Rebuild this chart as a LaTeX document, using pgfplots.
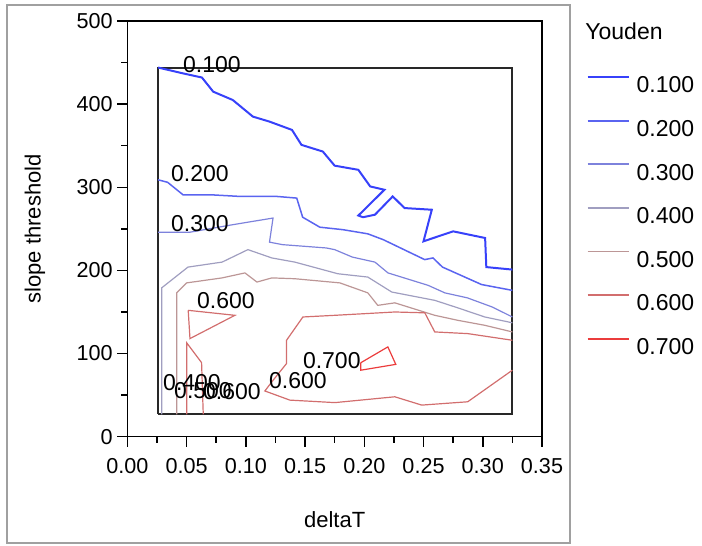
\documentclass[border=0pt]{standalone}
\usepackage{fontspec}
\setmainfont{Liberation Sans}
\usepackage{pgfplots}
\pgfplotsset{compat=1.18}
\definecolor{cA}{RGB}{55,65,250}
\definecolor{cB}{RGB}{90,100,240}
\definecolor{cC}{RGB}{125,130,220}
\definecolor{cD}{RGB}{160,158,192}
\definecolor{cE}{RGB}{188,150,150}
\definecolor{cF}{RGB}{210,110,110}
\definecolor{cG}{RGB}{235,60,60}
\definecolor{frame}{RGB}{160,160,160}
\begin{document}
\begin{tikzpicture}
\useasboundingbox (0,0) rectangle (351pt,273pt);
\draw[line width=0.8pt, frame] (3.5pt,1.5pt) rectangle (285pt,270.5pt);
\node[anchor=west, inner sep=0pt, font=\fontsize{11.5}{13}\selectfont] at (292.5pt,257.5pt) {Youden};
\begin{axis}[
  at={(63.65pt,54.65pt)}, anchor=south west,
  scale only axis, width=207.35pt, height=207.85pt,
  xmin=0, xmax=0.35, ymin=0, ymax=500,
  xtick={0,0.05,0.1,0.15,0.2,0.25,0.3,0.35},
  ytick={0,100,200,300,400,500},
  minor x tick num=1, minor y tick num=1,
  tick align=outside, xtick pos=bottom, ytick pos=left,
  major tick length=5pt, minor tick length=3pt,
  every tick/.style={black, line width=0.75pt},
  axis line style={black, line width=0.75pt},
  tick label style={font=\fontsize{10.8}{13}\selectfont},
  /pgf/number format/assume math mode=true,
  scaled x ticks=false,
  xticklabel style={yshift=-2.3pt, /pgf/number format/.cd, fixed, fixed zerofill, precision=2},
  yticklabel style={xshift=1.2pt},
  xlabel={deltaT}, ylabel={slope threshold},
  label style={font=\fontsize{11}{13}\selectfont},
  xlabel style={at={(axis description cs:0.5,-0.2004)}, anchor=center},
  ylabel style={at={(axis description cs:-0.2226,0.5)}, anchor=center},
  legend style={at={(axis description cs:1.1078,0.8684)}, anchor=north west,
    draw=none, fill=none, inner sep=0pt, outer sep=0pt,
    row sep=11.75pt, column sep=3.2pt,
    font=\fontsize{11.5}{13}\selectfont,
    cells={anchor=west}, nodes={inner sep=0pt}},
  legend image code/.code={\draw[#1, line width=0.9pt] (0pt,4.65pt) -- (20.8pt,4.65pt); \path (0pt,-4.65pt);},
  clip=false,
]
% inner frame
\addplot[forget plot, draw={rgb,255:red,40;green,40;blue,40}, line width=1pt] coordinates {
(0.026,27) (0.325,27) (0.325,444) (0.026,444) (0.026,27)};
% 0.100
\addplot[cA, line width=1pt] coordinates {
(0.026,444) (0.047,437) (0.063,432) (0.0725,415) (0.089,405) (0.106,385) (0.120,379)
(0.139,369) (0.147,351) (0.165,343) (0.175,326) (0.195,321) (0.205,301) (0.217,297)
(0.195,266) (0.199,264) (0.209,267) (0.224,289) (0.234,275) (0.257,273) (0.250,235)
(0.275,247) (0.302,239) (0.303,204) (0.325,201)};
\addlegendentry{0.100}
% 0.200
\addplot[cB, line width=0.75pt] coordinates {
(0.026,309) (0.034,306) (0.047,291) (0.070,291) (0.095,289) (0.126,289) (0.143,287)
(0.148,264) (0.1625,252) (0.182,249) (0.203,244) (0.216,237) (0.251,213) (0.258,215)
(0.266,204) (0.299,183) (0.325,176)};
\addlegendentry{0.200}
% 0.300
\addplot[cC, line width=0.6pt] coordinates {
(0.026,246) (0.053,246) (0.089,255) (0.123,263) (0.120,234) (0.131,231) (0.168,227)
(0.175,225) (0.190,216) (0.209,210) (0.220,197) (0.254,182) (0.268,173) (0.287,167)
(0.308,156) (0.325,144)};
\addlegendentry{0.300}
% 0.400
\addplot[cD, line width=0.6pt] coordinates {
(0.029,27) (0.029,179) (0.0512,204) (0.080,210) (0.1018,225) (0.122,215) (0.1414,210)
(0.1777,196) (0.203,192) (0.2232,174) (0.2595,164) (0.2789,155) (0.3017,144) (0.325,137)};
\addlegendentry{0.400}
% 0.500
\addplot[cE, line width=0.6pt] coordinates {
(0.0417,27) (0.0417,173) (0.0501,185) (0.080,191) (0.0993,197) (0.1094,186) (0.122,191)
(0.1414,190) (0.1794,185) (0.203,173) (0.2114,158) (0.2258,161) (0.2595,146) (0.2789,140)
(0.3017,134) (0.325,126)};
\addlegendentry{0.500}
% 0.600
\addplot[cF, line width=0.6pt] coordinates {
(0.0501,27) (0.0501,113) (0.0627,89) (0.0641,27)};
\addlegendentry{0.600}
\addplot[cF, line width=0.6pt, forget plot] coordinates {
(0.0514,152) (0.0908,146) (0.0529,118) (0.0514,152)};
\addplot[cF, line width=0.6pt, forget plot] coordinates {
(0.325,116) (0.2873,124) (0.2595,126) (0.2511,149) (0.2258,150) (0.1752,146) (0.1482,144)
(0.1344,116) (0.1344,88) (0.1231,68) (0.1161,55) (0.1372,44) (0.1752,41) (0.2258,48)
(0.2485,38) (0.2873,42) (0.325,80)};
% 0.700
\addplot[cG, line width=0.6pt] coordinates {
(0.1971,89) (0.2199,108) (0.2266,87) (0.1971,80) (0.1971,89)};
\addlegendentry{0.700}
% contour labels
\begin{scope}[every node/.style={inner sep=0pt, font=\fontsize{11.5}{13}\selectfont}]
\node at (axis cs:0.0714,447) {0.100};
\node at (axis cs:0.0613,317) {0.200};
\node at (axis cs:0.0613,256) {0.300};
\node at (axis cs:0.0832,164) {0.600};
\node at (axis cs:0.1726,91) {0.700};
\node at (axis cs:0.1440,67) {0.600};
\node at (axis cs:0.0546,65) {0.400};
\node at (axis cs:0.0639,55) {0.500};
\node at (axis cs:0.0883,54) {0.600};
\end{scope}
\end{axis}
\end{tikzpicture}
\end{document}
